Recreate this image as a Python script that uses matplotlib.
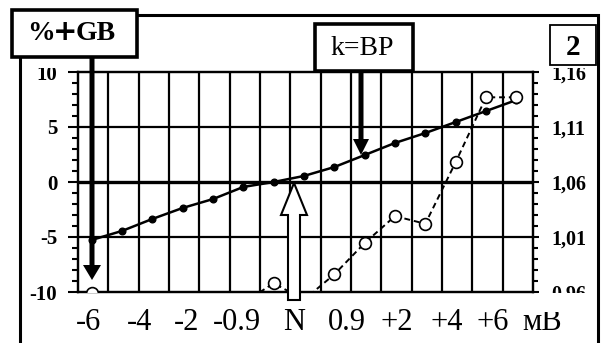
import numpy as np
import matplotlib.pyplot as plt
import matplotlib.transforms as mtransforms
from matplotlib.patches import Rectangle, Polygon
from matplotlib.ticker import MultipleLocator

plt.rcParams['font.family'] = ['Liberation Serif', 'DejaVu Serif']
plt.rcParams['axes.unicode_minus'] = False

W, H = 606, 343

# potential steps along the bottom axis
x_labels = ['-6', '-4', '-2', '-0.9', 'N', '0.9', '+2', '+4', '+6']
x_label_pos = [0.33, 2.04, 3.59, 5.24, 7.12, 8.87, 10.52, 12.17, 13.68]

# %+GB (left axis), filled markers
pct_gb = [-5.27, -4.45, -3.36, -2.36, -1.55, -0.45, 0.0, 0.55,
          1.36, 2.45, 3.55, 4.45, 5.45, 6.45, 7.45]
# k = BP (right axis), open markers; nan = off scale
k_bp = [0.959, np.nan, np.nan, np.nan, np.nan, 0.950, 0.968, 0.953,
        0.976, 1.0045, 1.029, 1.022, 1.078, 1.137, 1.137]

left_ticks = [-10, -5, 0, 5, 10]
right_ticks = [0.96, 1.01, 1.06, 1.11, 1.16]
right_labels = ['0,96', '1,01', '1,06', '1,11', '1,16']

x = np.arange(len(pct_gb)) + 0.45


def fx(px):
    return px / W


def fy(py):
    return 1 - py / H


def poly(pts, closed=True, **kw):
    return Polygon([(fx(a), fy(b)) for a, b in pts], closed=closed,
                   transform=fig.transFigure, **kw)


def box(x0, y0, x1, y1, **kw):
    return Rectangle((fx(x0), fy(y1)), (x1 - x0) / W, (y1 - y0) / H,
                     transform=fig.transFigure, **kw)


fig = plt.figure(figsize=(W / 100, H / 100), dpi=100)
ax = fig.add_axes([fx(78), fy(292), 455 / W, 220 / H])
ax.set_xlim(0, 15)
ax.set_ylim(-10, 10)

# grid
ax.vlines(range(1, 15), -10, 10, color='black', lw=1.6, zorder=1)
for yv in (-5, 5):
    ax.axhline(yv, color='black', lw=1.6, zorder=1)
ax.axhline(0, color='black', lw=2.4, zorder=1)

ax.plot(x, pct_gb, '-o', color='black', lw=1.8, ms=4.8, zorder=3)

ax.set_xticks([])
ax.set_yticks(left_ticks)
ax.yaxis.set_minor_locator(MultipleLocator(1))
ax.tick_params(axis='y', which='major', direction='out', length=7, width=1.5,
               pad=8, labelsize=15)
ax.tick_params(axis='y', which='minor', direction='out', length=4.5, width=1.5)
for lab in ax.get_yticklabels():
    lab.set_fontweight('bold')

ax2 = ax.twinx()
ax2.set_ylim(0.96, 1.16)
ax2.plot(x, k_bp, '--o', color='black', lw=1.4, dashes=(3, 2), ms=8.5,
         mfc='white', mec='black', mew=1.2, zorder=3)
ax2.set_yticks(right_ticks)
ax2.set_yticklabels(right_labels)
ax2.yaxis.set_minor_locator(MultipleLocator(0.01))
ax2.tick_params(axis='y', which='major', direction='out', length=4, width=1.5,
                pad=9, labelsize=14.5)
ax2.tick_params(axis='y', which='minor', direction='out', length=3.5, width=1.5)
for lab in ax2.get_yticklabels():
    lab.set_fontweight('bold')

for a in (ax, ax2):
    for s in a.spines.values():
        s.set_linewidth(1.6)

# bottom labels
trans = mtransforms.blended_transform_factory(ax.transData, fig.transFigure)
for pos, lab in zip(x_label_pos, x_labels):
    ax.text(pos, fy(330), lab, transform=trans, ha='center', va='baseline',
            fontsize=22)
fig.text(fx(542), fy(330), 'мВ', ha='center', va='baseline', fontsize=22)

# blank strips over the clipped scale labels
fig.add_artist(box(21, 16, 597, 67.5, fc='white', ec='none', zorder=5))
fig.add_artist(box(538, 292.8, 597, 312, fc='white', ec='none', zorder=5))

# outer frame
fig.add_artist(poly([(20, 343), (20, 15), (598, 15), (598, 343)],
                    closed=False, fill=False, ec='black', lw=2.2, zorder=6))

# %+GB box with arrow down to the -6 point
fig.add_artist(poly([(89.5, 57), (94.5, 57), (94.5, 265), (101, 265), (92, 280),
                     (83, 265), (89.5, 265)], fc='black', ec='none', zorder=7))
fig.add_artist(box(12, 10, 137, 57, fc='white', ec='black', lw=2.6, zorder=7))
fig.text(fx(27), fy(40), '%', ha='left', va='baseline', fontsize=20,
         fontweight='bold', zorder=8)
fig.text(fx(65), fy(40), '+', ha='center', va='baseline', fontsize=21,
         fontweight='bold', family='DejaVu Sans', zorder=8)
fig.text(fx(76), fy(40), 'GB', ha='left', va='baseline', fontsize=20,
         fontweight='bold', zorder=8)

# k=BP box with arrow
fig.add_artist(poly([(358.5, 70), (363.5, 70), (363.5, 139), (369, 139), (361, 155),
                     (353, 139), (358.5, 139)], fc='black', ec='none', zorder=7))
fig.add_artist(box(315, 24, 413, 71, fc='white', ec='black', lw=2.6, zorder=7))
fig.text(fx(362), fy(55), 'k=BP', ha='center', va='baseline', fontsize=20,
         zorder=8)

# panel number
fig.add_artist(box(550, 25, 596, 65, fc='white', ec='black', lw=1.3, zorder=7))
fig.text(fx(573), fy(55), '2', ha='center', va='baseline', fontsize=21,
         fontweight='bold', zorder=8)

# hollow arrow up to the zero crossing
fig.add_artist(poly([(294, 183), (307, 215), (300, 215), (300, 300), (288, 300),
                     (288, 215), (281, 215)], fc='white', ec='black', lw=1.5,
                    zorder=7))

fig.savefig('out.png', dpi=100)
